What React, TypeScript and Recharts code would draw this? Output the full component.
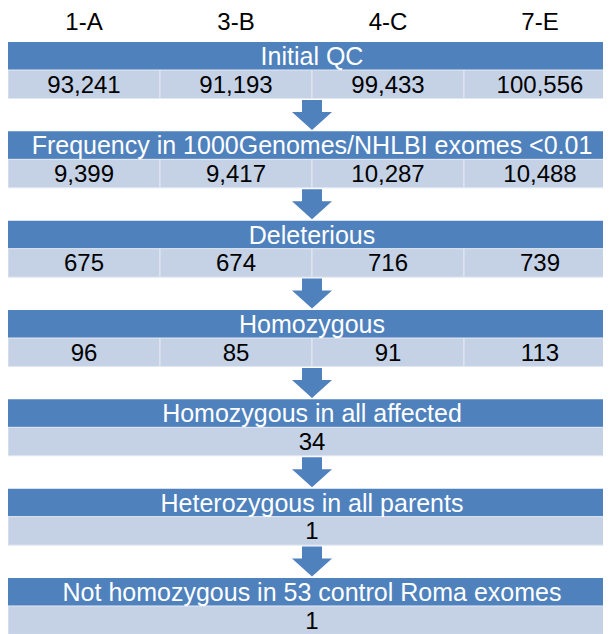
import { ComposedChart, XAxis, YAxis, ReferenceArea, Scatter } from 'recharts'

// column headers (families) and filtering steps
const families = ['1-A', '3-B', '4-C', '7-E']
const steps = [
  'Initial QC',
  'Frequency in 1000Genomes/NHLBI exomes <0.01',
  'Deleterious',
  'Homozygous',
  'Homozygous in all affected',
  'Heterozygous in all parents',
  'Not homozygous in 53 control Roma exomes',
]

// variant counts left after each step
const initialQC = [93241, 91193, 99433, 100556]
const rareVariants = [9399, 9417, 10287, 10488]
const deleterious = [675, 674, 716, 739]
const homozygous = [96, 85, 91, 113]
const homInAffected = [34]
const hetInParents = [1]
const notHomInControls = [1]

const counts = [initialQC, rareVariants, deleterious, homozygous, homInAffected, hetInParents, notHomInControls]

const CHART_W = 608
const CHART_H = 626
const HEADER_H = 30
const PITCH = 89.33 // px per step
const Y_MAX = (CHART_H - HEADER_H) / PITCH
const TOP = 4 / PITCH
const DARK = 28 / PITCH
const LIGHT = 28.5 / PITCH

const BLUE = '#4F81BD'
const PALE = '#C5D2E6'

const fmt = (v: number) => v.toLocaleString('en-US')

function Arrow({ cx = 0, cy = 0 }: { cx?: number; cy?: number }) {
  const d = `M${cx - 10},${cy - 15} H${cx + 10} V${cy - 3} H${cx + 20} L${cx},${cy + 15} L${cx - 20},${cy - 3} H${cx - 10} Z`
  return <path d={d} fill={BLUE} />
}

const arrows = steps.slice(1).map((_, k) => ({
  x: families.length / 2,
  y: (TOP + k + DARK + LIGHT + TOP + k + 1) / 2,
}))

export default function App() {
  const n = families.length
  return (
    <div style={{ width: 603, height: CHART_H, overflow: 'hidden', fontFamily: '"Liberation Sans", Arial, sans-serif' }}>
      <ComposedChart width={CHART_W} height={CHART_H} margin={{ top: 0, right: 0, bottom: 0, left: 0 }}>
        <XAxis
          dataKey="x"
          type="number"
          orientation="top"
          domain={[0, n]}
          ticks={families.map((_, i) => i + 0.5)}
          tickFormatter={(v: number) => families[Math.floor(v)]}
          interval={0}
          axisLine={false}
          tickLine={false}
          tickSize={0}
          tickMargin={8}
          height={HEADER_H}
          tick={{ fill: '#000', fontSize: 24 }}
        />
        <YAxis dataKey="y" type="number" domain={[0, Y_MAX]} reversed hide allowDataOverflow />
        {steps.map((step, k) => (
          <ReferenceArea
            key={`step-${k}`}
            x1={0}
            x2={n}
            y1={TOP + k}
            y2={TOP + k + DARK}
            ifOverflow="visible"
            fill={BLUE}
            fillOpacity={1}
            stroke="none"
            label={{ value: step, position: 'center', fill: '#fff', fontSize: 25 }}
          />
        ))}
        {counts.map((row, k) =>
          row.map((v, i) => (
            <ReferenceArea
              key={`cell-${k}-${i}`}
              x1={(i * n) / row.length}
              x2={((i + 1) * n) / row.length}
              y1={TOP + k + DARK}
              y2={TOP + k + DARK + LIGHT}
              ifOverflow="visible"
              fill={PALE}
              fillOpacity={1}
              stroke="#E2E8F2"
              strokeWidth={1}
              label={{ value: fmt(v), position: 'center', fill: '#000', fontSize: 24 }}
            />
          ))
        )}
        <Scatter data={arrows} shape={<Arrow />} isAnimationActive={false} />
      </ComposedChart>
    </div>
  )
}
